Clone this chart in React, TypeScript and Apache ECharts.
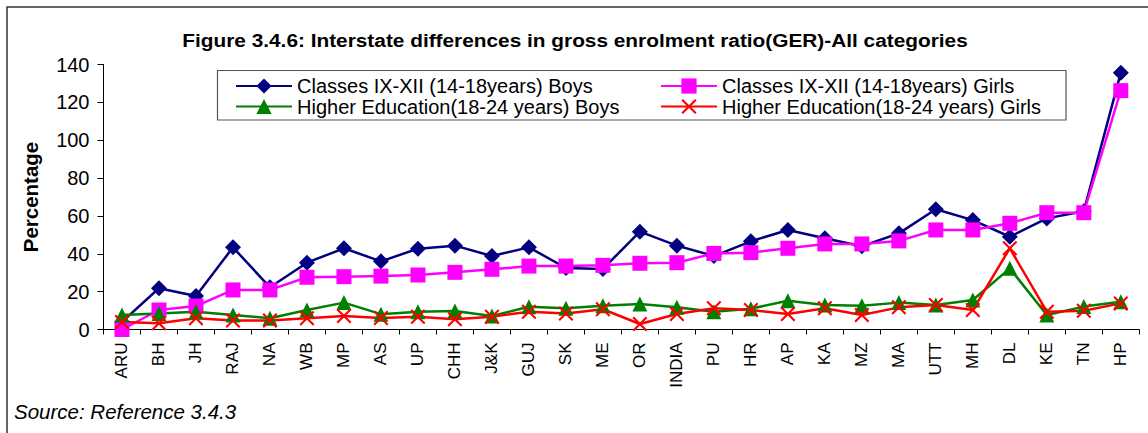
import React, { useEffect, useRef } from "react";
import * as echarts from "echarts";

const categories = ["ARU","BH","JH","RAJ","NA","WB","MP","AS","UP","CHH","J&K","GUJ","SK","ME","OR","INDIA","PU","HR","AP","KA","MZ","MA","UTT","MH","DL","KE","TN","HP"];

const boysIXXII = [4, 21.8, 17.7, 43.4, 22.3, 35.3, 42.9, 36, 42.7, 44.3, 38.8, 43.4, 32.5, 32, 51.7, 44.3, 38.8, 46.6, 52.6, 48.2, 44, 50.8, 63.5, 57.8, 49, 58.7, 62.5, 135.7];
const girlsIXXII = [0, 10.3, 12.4, 20.9, 20.9, 27.6, 27.9, 28.2, 28.8, 30.2, 31.8, 33.5, 33.5, 33.9, 35.0, 35.3, 40.2, 40.6, 42.9, 45.2, 45.2, 46.8, 52.6, 52.6, 56.1, 61.7, 61.7, 126.2];
const heBoys = [7.6, 8.5, 9.4, 7.7, 5.9, 10.3, 14.2, 8.1, 9.4, 9.8, 7.1, 12.0, 11.2, 12.6, 13.5, 11.7, 9.4, 11.0, 15.2, 12.9, 12.6, 14.2, 12.9, 15.6, 32.3, 7.7, 12.1, 14.7];
const heGirls = [4, 3.3, 5.9, 4.7, 4.7, 6.0, 7.1, 6.1, 6.8, 5.4, 6.8, 9.4, 8.5, 10.7, 2.9, 8.2, 11.2, 10.3, 8.2, 11.2, 7.7, 11.7, 12.9, 10.3, 42.9, 9.4, 9.9, 13.8];

const seriesNames = [
  "Classes IX-XII (14-18years) Boys",
  "Classes IX-XII (14-18years) Girls",
  "Higher Education(18-24 years) Boys",
  "Higher Education(18-24 years) Girls",
];

const titleText = "Figure 3.4.6: Interstate differences in gross enrolment ratio(GER)-All categories";
const yName = "Percentage";
const sourceText = "Source: Reference 3.4.3";

const FONT = "'Liberation Sans', Arial, sans-serif";
const CROSS = "path://M1,0 L5,4 L9,0 L10,1 L6,5 L10,9 L9,10 L5,6 L1,10 L0,9 L4,5 L0,1 Z";

export default function App() {
  const ref = useRef<HTMLDivElement>(null);
  useEffect(() => {
    if (!ref.current) return;
    const chart = echarts.init(ref.current, undefined, { renderer: "svg" });
    const mk = (name: string, data: number[], color: string, symbol: string, size: number) => ({
      name,
      type: "line",
      data,
      symbol,
      symbolSize: size,
      showAllSymbol: true,
      lineStyle: { color, width: 2.5 },
      itemStyle: { color },
      emphasis: { disabled: true },
    });
    const legendBase = {
      orient: "vertical",
      top: 76,
      padding: 0,
      itemWidth: 56,
      itemHeight: 19,
      itemGap: 0.5,
      textStyle: { fontFamily: FONT, fontSize: 20, color: "#000", lineHeight: 19 },
    };
    chart.setOption({
      animation: false,
      backgroundColor: "#ffffff",
      textStyle: { fontFamily: FONT },
      legend: [
        { ...legendBase, left: 235, data: [seriesNames[0], seriesNames[2]] },
        { ...legendBase, left: 660, data: [seriesNames[1], seriesNames[3]] },
      ],
      grid: { left: 103.5, right: 8.7, top: 64.5, bottom: 103.5, containLabel: false },
      xAxis: {
        type: "category",
        data: categories,
        boundaryGap: true,
        axisLine: { show: true, lineStyle: { color: "#000", width: 1 } },
        axisTick: { show: true, inside: false, length: 5, lineStyle: { color: "#000" } },
        axisLabel: { rotate: 90, fontSize: 17, color: "#000", fontFamily: FONT, margin: 13, interval: 0 },
        splitLine: { show: false },
      },
      yAxis: {
        type: "value",
        min: 0,
        max: 140,
        interval: 20,
        axisLine: { show: true, lineStyle: { color: "#000", width: 1 } },
        axisTick: { show: true, inside: false, length: 6, lineStyle: { color: "#000" } },
        axisLabel: { fontSize: 20, color: "#000", fontFamily: FONT, margin: 14 },
        splitLine: { show: false },
      },
      graphic: [
        {
          type: "rect",
          z: -10,
          shape: { x: 7, y: 7, width: 1160, height: 440 },
          style: { fill: "none", stroke: "#333", lineWidth: 1.5 },
          silent: true,
        },
        {
          type: "rect",
          z: -5,
          shape: { x: 217.5, y: 70.5, width: 848.5, height: 49.5 },
          style: { fill: "#fff", stroke: "#555", lineWidth: 1.2 },
          silent: true,
        },
        {
          type: "text",
          x: 575,
          y: 40,
          scaleX: 1.12,
          style: {
            text: titleText,
            fontFamily: FONT,
            fontWeight: "bold",
            fontSize: 18.6,
            fill: "#000",
            align: "center",
            verticalAlign: "middle",
          },
        },
        {
          type: "text",
          x: 30,
          y: 197,
          rotation: Math.PI / 2,
          style: {
            text: yName,
            fontFamily: FONT,
            fontWeight: "bold",
            fontSize: 20.5,
            fill: "#000",
            align: "center",
            verticalAlign: "middle",
          },
        },
        {
          type: "text",
          x: 14,
          y: 411,
          style: {
            text: sourceText,
            fontFamily: FONT,
            fontStyle: "italic",
            fontSize: 20.5,
            fill: "#000",
            align: "left",
            verticalAlign: "middle",
          },
        },
      ],
      series: [
        mk(seriesNames[0], boysIXXII, "#000080", "diamond", 16),
        mk(seriesNames[1], girlsIXXII, "#FF00FF", "rect", 15),
        mk(seriesNames[2], heBoys, "#008000", "triangle", 15),
        mk(seriesNames[3], heGirls, "#FF0000", CROSS, 15),
      ],
    });
    return () => chart.dispose();
  }, []);
  return (
    <div
      ref={ref}
      style={{ position: "fixed", left: 0, top: 0, width: 1148, height: 433 }}
    />
  );
}
